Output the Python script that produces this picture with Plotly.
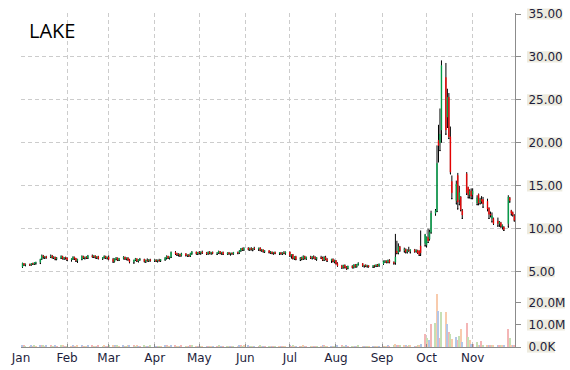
import pandas as pd
import plotly.graph_objects as go

TICKER = "LAKE"

# daily candles (open, high, low, close), one list per month (2019 trading days)
jan = [(5.55,6.05,5.50,6.00),(5.95,6.00,5.75,5.80),(5.80,5.95,5.70,5.85),(5.85,5.95,5.75,5.78),
       (5.80,6.00,5.78,5.95),(5.95,6.05,5.85,5.90),(5.90,6.10,5.85,6.05),(6.05,6.15,5.90,6.10),
       (6.10,6.50,5.95,6.45),(6.50,7.00,6.45,6.85),(6.85,6.95,6.60,6.70),(6.70,6.80,6.55,6.75),
       (6.75,6.85,6.60,6.65),(6.70,7.00,6.65,6.80),(6.85,6.95,6.60,6.65),(6.65,6.80,6.55,6.70),
       (6.70,6.75,6.40,6.50),(6.50,6.70,6.40,6.60),(6.60,6.90,6.55,6.80),(6.80,6.85,6.50,6.55),
       (6.55,6.70,6.45,6.65),(6.65,6.75,6.50,6.60)]
feb = [(6.60,6.70,6.30,6.40),(6.40,6.55,6.25,6.50),(6.50,6.80,6.45,6.70),(6.70,6.75,6.45,6.55),
       (6.55,6.60,6.20,6.30),(6.30,6.50,6.10,6.45),(6.45,6.90,6.40,6.80),(6.80,6.85,6.55,6.60),
       (6.60,6.75,6.50,6.70),(6.70,6.80,6.55,6.60),(6.60,6.95,6.55,6.85),(6.85,7.00,6.70,6.75),
       (6.75,6.90,6.65,6.85),(6.85,6.90,6.60,6.65),(6.65,6.80,6.55,6.75),(6.75,6.85,6.50,6.55),
       (6.55,6.70,6.45,6.65),(6.65,6.90,6.60,6.80),(6.80,6.85,6.55,6.60),(6.60,6.75,6.50,6.70)]
mar = [(6.70,6.90,6.40,6.45),(6.45,6.60,6.10,6.20),(6.20,6.55,6.15,6.50),(6.50,6.70,6.40,6.60),
       (6.60,6.65,6.30,6.35),(6.35,6.60,6.30,6.55),(6.55,6.80,6.50,6.70),(6.70,6.75,6.45,6.50),
       (6.50,6.65,6.40,6.60),(6.60,6.70,6.35,6.40),(6.40,6.50,6.05,6.15),(6.15,6.40,6.00,6.35),
       (6.35,6.60,6.30,6.50),(6.50,6.55,6.20,6.25),(6.25,6.45,6.15,6.40),(6.40,6.60,6.35,6.45),
       (6.45,6.50,6.15,6.20),(6.20,6.40,6.10,6.35),(6.35,6.55,6.25,6.30),(6.30,6.45,6.20,6.40),
       (6.40,6.50,6.25,6.30)]
apr = [(6.30,6.45,6.20,6.35),(6.35,6.45,6.20,6.25),(6.25,6.40,6.15,6.35),(6.35,6.50,6.25,6.30),
       (6.30,6.45,6.20,6.40),(6.40,6.70,6.35,6.60),(6.60,6.90,6.50,6.80),(6.80,6.85,6.55,6.60),
       (6.60,6.75,6.50,6.70),(6.70,7.35,6.65,7.25),(7.25,7.40,7.00,7.10),(7.10,7.20,6.90,7.00),
       (7.00,7.15,6.85,7.05),(7.05,7.10,6.80,6.90),(6.90,7.20,6.85,7.10),(7.10,7.15,6.85,6.90),
       (6.90,7.00,6.80,6.95),(6.95,7.05,6.80,6.85),(6.85,7.20,6.80,7.15),(7.15,7.40,7.05,7.30),
       (7.30,7.35,7.05,7.10),(7.10,7.30,7.00,7.25)]
may = [(7.25,7.40,7.10,7.20),(7.20,7.35,7.05,7.30),(7.30,7.45,7.15,7.20),(7.20,7.30,7.00,7.10),
       (7.10,7.35,7.05,7.30),(7.30,7.40,7.10,7.15),(7.15,7.30,7.05,7.25),(7.25,7.35,7.10,7.15),
       (7.15,7.25,7.00,7.20),(7.20,7.45,7.15,7.35),(7.35,7.40,7.10,7.15),(7.15,7.30,7.05,7.25),
       (7.25,7.35,7.00,7.05),(7.05,7.25,7.00,7.20),(7.20,7.30,7.05,7.10),(7.10,7.20,6.95,7.15),
       (7.15,7.25,7.05,7.10),(7.10,7.30,7.05,7.25),(7.25,7.35,7.10,7.20),(7.20,7.50,7.15,7.45),
       (7.45,7.75,7.40,7.70),(7.70,7.80,7.50,7.55),(7.55,7.85,7.50,7.75)]
jun = [(7.75,7.85,7.55,7.60),(7.60,7.80,7.50,7.70),(7.70,7.85,7.55,7.60),(7.60,7.75,7.45,7.70),
       (7.70,7.90,7.60,7.65),(7.65,7.80,7.50,7.75),(7.75,7.85,7.45,7.50),(7.50,7.65,7.40,7.55),
       (7.55,7.60,7.30,7.35),(7.35,7.50,7.25,7.45),(7.45,7.50,7.20,7.25),(7.25,7.40,7.15,7.30),
       (7.30,7.35,7.10,7.15),(7.15,7.30,7.05,7.25),(7.25,7.35,7.10,7.15),(7.15,7.25,7.00,7.20),
       (7.20,7.30,7.05,7.10),(7.10,7.25,7.00,7.20),(7.20,7.40,7.10,7.15),(7.15,7.35,7.05,7.30)]
jul = [(7.30,7.35,6.80,6.90),(6.90,7.05,6.60,7.00),(7.00,7.05,6.50,6.55),(6.55,6.80,6.45,6.75),
       (6.75,6.85,6.40,6.45),(6.45,6.70,6.30,6.60),(6.60,6.75,6.40,6.50),(6.50,6.90,6.45,6.80),
       (6.80,6.85,6.50,6.55),(6.55,6.75,6.45,6.70),(6.70,6.85,6.55,6.60),(6.60,6.80,6.50,6.75),
       (6.75,6.90,6.60,6.65),(6.65,6.80,6.45,6.50),(6.50,6.70,6.35,6.65),(6.65,6.85,6.55,6.60),
       (6.60,6.75,6.30,6.35),(6.35,6.80,6.30,6.70),(6.70,6.85,6.40,6.45),(6.45,6.60,6.20,6.30),
       (6.30,6.50,6.10,6.45),(6.45,6.55,6.15,6.20),(6.20,6.40,6.05,6.30)]
aug = [(6.30,6.35,5.90,5.95),(5.95,6.10,5.65,5.70),(5.70,5.80,5.40,5.50),(5.50,5.80,5.45,5.75),
       (5.75,5.85,5.45,5.50),(5.50,5.65,5.30,5.40),(5.40,5.70,5.35,5.65),(5.65,5.75,5.45,5.50),
       (5.50,5.85,5.45,5.80),(5.80,5.90,5.55,5.60),(5.60,5.90,5.55,5.85),(5.85,6.10,5.80,5.95),
       (5.95,6.00,5.65,5.70),(5.70,5.80,5.55,5.75),(5.75,5.85,5.60,5.65),(5.65,5.80,5.55,5.70),
       (5.70,5.75,5.55,5.60),(5.60,5.75,5.50,5.70),(5.70,5.80,5.55,5.65),(5.65,5.85,5.60,5.80),
       (5.80,5.90,5.65,5.70),(5.70,5.95,5.65,5.90)]
sep = [(5.90,6.30,5.85,6.20),(6.20,6.35,6.10,6.25),(6.25,6.30,6.05,6.10),(6.10,6.40,6.05,6.35),
       (6.35,6.45,6.05,6.10),(6.10,6.20,5.90,6.00),(6.10,9.40,5.90,6.70),(7.40,8.60,7.10,7.20),
       (7.20,8.30,7.10,7.90),(7.90,8.00,7.40,7.50),(7.50,7.80,7.30,7.60),(7.60,7.70,7.20,7.30),
       (7.30,7.60,7.20,7.50),(7.50,7.90,7.40,7.45),(7.45,7.60,7.20,7.55),(7.55,7.65,7.30,7.35),
       (7.35,7.60,7.30,7.50),(7.50,7.55,7.15,7.20),(7.40,7.50,6.90,7.00),(8.00,9.80,6.90,7.20),
       (8.30,9.40,8.00,9.30)]
oct_ = [(8.10,9.10,7.90,9.00),(9.00,10.00,8.40,8.60),(8.80,9.90,8.70,9.60),(9.60,12.10,9.50,11.80),
        (11.80,12.30,11.60,12.10),(12.10,19.70,12.00,17.60),(20.30,22.10,17.80,19.70),(20.00,24.00,19.10,21.00),
        (21.50,29.60,20.10,29.00),(27.60,29.30,21.00,21.50),(23.00,26.30,21.80,25.30),(25.30,25.80,20.50,20.70),
        (20.70,21.90,16.40,16.60),(15.50,16.20,13.50,14.20),(13.30,15.60,12.90,15.20),(16.20,16.50,12.30,13.10),
        (13.40,15.00,12.80,14.20),(13.70,13.80,12.10,12.20),(12.10,12.30,11.20,11.60),(16.40,16.60,14.00,14.20),
        (14.80,14.90,13.60,14.00),(14.00,14.60,13.60,14.40),(14.40,14.70,13.50,13.80)]
nov = [(14.00,14.70,13.50,14.40),(13.00,13.90,12.80,13.60),(14.00,14.10,12.80,13.00),(13.10,13.60,12.90,13.40),
       (13.40,13.80,13.00,13.20),(13.40,13.70,12.50,12.90),(13.20,13.50,12.10,12.30),(12.40,12.50,11.20,11.70),
       (11.70,12.00,11.40,11.60),(11.20,11.90,10.80,11.50),(11.20,11.30,10.50,10.60),(10.90,11.30,10.30,10.60),
       (10.60,10.90,10.30,10.80),(10.70,10.80,10.20,10.30),(10.30,10.50,10.00,10.40),(10.20,10.30,9.80,9.90),
       (10.60,13.90,10.20,13.70),(13.60,13.70,13.10,13.30),(12.10,12.20,11.60,11.80),(11.90,12.00,11.50,11.60),
       (11.50,11.70,10.90,11.00)]

# daily volume, millions of shares
vol_jan = [0.9,0.5,0.4,0.3,0.6,0.4,0.5,0.3,0.8,1.1,0.6,0.4,0.5,0.6,0.4,0.3,0.5,0.4,0.6,0.5,0.3,0.4]
vol_feb = [0.4,0.3,0.6,0.4,0.3,0.5,0.7,0.4,0.3,0.4,0.6,0.5,0.3,0.4,0.3,0.5,0.4,0.6,0.3,0.4]
vol_mar = [0.6,0.7,0.5,0.4,0.5,0.3,0.6,0.4,0.3,0.5,0.7,0.5,0.4,0.5,0.3,0.4,0.5,0.3,0.4,0.3,0.5]
vol_apr = [0.3,0.4,0.3,0.3,0.4,0.5,0.6,0.4,0.3,0.9,0.5,0.4,0.3,0.4,0.5,0.3,0.3,0.4,0.5,0.6,0.4,0.3]
vol_may = [0.4,0.3,0.3,0.4,0.3,0.3,0.4,0.3,0.3,0.5,0.4,0.3,0.4,0.3,0.3,0.3,0.3,0.4,0.3,0.5,0.7,0.4,0.5]
vol_jun = [0.5,0.4,0.3,0.4,0.4,0.3,0.5,0.3,0.4,0.3,0.4,0.3,0.3,0.3,0.4,0.3,0.3,0.3,0.4,0.3]
vol_jul = [0.5,0.4,0.5,0.3,0.4,0.4,0.3,0.5,0.4,0.3,0.3,0.4,0.3,0.4,0.3,0.3,0.5,0.5,0.4,0.4,0.3,0.4,0.3]
vol_aug = [0.5,0.6,0.7,0.4,0.4,0.5,0.4,0.3,0.4,0.3,0.4,0.5,0.3,0.3,0.3,0.3,0.3,0.3,0.3,0.4,0.3,0.4]
vol_sep = [0.4,0.4,0.3,0.5,0.4,0.5,1.5,1.0,0.8,0.6,0.5,0.5,0.4,0.6,0.5,0.4,0.4,0.5,0.9,1.2,6.0]
vol_oct = [4.0,2.2,3.4,10.5,10.9,23.9,16.4,4.0,15.7,15.7,10.5,7.0,6.0,3.7,4.5,3.0,5.0,8.2,2.2,10.9,4.5,3.0,1.5]
vol_nov = [1.2,2.2,1.0,0.8,2.8,0.9,0.7,0.6,1.0,0.8,0.9,0.7,0.6,1.1,0.5,0.8,8.2,4.0,0.9,0.5,0.8]

MONTHS = [("2019-01-02", "2019-01-31", jan, vol_jan), ("2019-02-01", "2019-02-28", feb, vol_feb),
          ("2019-03-01", "2019-03-31", mar, vol_mar), ("2019-04-01", "2019-04-30", apr, vol_apr),
          ("2019-05-01", "2019-05-31", may, vol_may), ("2019-06-01", "2019-06-30", jun, vol_jun),
          ("2019-07-01", "2019-07-31", jul, vol_jul), ("2019-08-01", "2019-08-31", aug, vol_aug),
          ("2019-09-01", "2019-09-30", sep, vol_sep), ("2019-10-01", "2019-10-31", oct_, vol_oct),
          ("2019-11-01", "2019-11-29", nov, vol_nov)]

price_ticks = [5, 10, 15, 20, 25, 30, 35]
vol_ticks = [0, 10e6, 20e6]
vol_ticktext = ["0.0K", "10.0M", "20.0M"]

dates, o, h, l, c, v = [], [], [], [], [], []
for start, end, rows, vols in MONTHS:
    d = pd.bdate_range(start, end)
    assert len(d) == len(rows) == len(vols), (start, len(d), len(rows), len(vols))
    dates += list(d)
    for (a, b, e, f) in rows:
        o.append(a); h.append(b); l.append(e); c.append(f)
    v += [x * 1e6 for x in vols]

body_hi = [max(a, f) for a, f in zip(o, c)]
body_lo = [min(a, f) for a, f in zip(o, c)]

GREEN = "#00b050"
RED = "#ff0000"
PASTELS = ["#b4c6e7", "#f4b6b6", "#c5e0b4", "#f8cbad"]
GRID = "#cccccc"
AXIS = "#8c8c8c"
TXT = "#1e1e3c"
FONT = "DejaVu Sans"

fig = go.Figure()
# wicks (black): degenerate box at the low, whisker up to the high
fig.add_trace(go.Candlestick(
    x=dates, open=l, high=h, low=l, close=l, xaxis="x", yaxis="y",
    increasing=dict(line=dict(color="black", width=1), fillcolor="black"),
    decreasing=dict(line=dict(color="black", width=1), fillcolor="black"),
    whiskerwidth=0, hoverinfo="skip", showlegend=False))
# bodies (coloured)
fig.add_trace(go.Candlestick(
    x=dates, open=o, high=body_hi, low=body_lo, close=c, xaxis="x", yaxis="y",
    increasing=dict(line=dict(color=GREEN, width=0.5), fillcolor=GREEN),
    decreasing=dict(line=dict(color=RED, width=0.5), fillcolor=RED),
    whiskerwidth=0, showlegend=False))
# volume
fig.add_trace(go.Bar(
    x=dates, y=v, xaxis="x", yaxis="y2", width=0.8 * 86400000,
    marker=dict(color=[PASTELS[i % len(PASTELS)] for i in range(len(v))], line=dict(width=0)),
    showlegend=False))

W, H = 570, 370
ML, MR, MT, MB = 21, 55, 13, 23
PW = W - ML - MR
PH = H - MT - MB
split = (347 - 286) / PH
price_range = [3.335, 35.116]
vol_range = [0, 27.7e6]

fig.update_layout(
    width=W, height=H, margin=dict(l=ML, r=MR, t=MT, b=MB, autoexpand=False),
    paper_bgcolor="white", plot_bgcolor="white", showlegend=False,
    bargap=0,
    xaxis=dict(type="date", range=["2019-01-01", "2019-11-29 12:00"], dtick="M1",
               tick0="2019-01-01", tickformat="%b", anchor="y2", automargin=False,
               showgrid=True, gridcolor=GRID, griddash="4px,3px", gridwidth=1,
               showline=True, linecolor=AXIS, linewidth=1, zeroline=False,
               ticks="inside", ticklen=3, tickcolor=AXIS,
               tickfont=dict(family=FONT, size=12, color=TXT),
               rangeslider=dict(visible=False)),
    yaxis=dict(domain=[split, 1], range=price_range, side="right", anchor="x", automargin=False,
               tickvals=price_ticks, tickformat=".2f",
               showgrid=True, gridcolor=GRID, griddash="4px,3px", gridwidth=1,
               showline=True, linecolor=AXIS, linewidth=1, zeroline=False,
               ticks="outside", ticklen=5, tickcolor=AXIS, ticklabelstandoff=5,
               tickfont=dict(family=FONT, size=12, color=TXT)),
    yaxis2=dict(domain=[0, split], range=vol_range, side="right", anchor="x", automargin=False,
                tickvals=vol_ticks, ticktext=vol_ticktext,
                showgrid=False, showline=True, linecolor=AXIS, linewidth=1, zeroline=False,
                ticks="outside", ticklen=5, tickcolor=AXIS, ticklabelstandoff=5,
                tickfont=dict(family=FONT, size=12, color=TXT)),
)

# beige boxes behind the tick labels (paper coordinates derived from the axis ranges)
CW = {"0": 7.63, "1": 7.63, "2": 7.63, "3": 7.63, "4": 7.63, "5": 7.63, "6": 7.63,
      "7": 7.63, "8": 7.63, "9": 7.63, ".": 3.81, "M": 10.36, "K": 7.87}
BOX = "#edebdf"
def to_paper(val, rng, dom):
    return dom[0] + (val - rng[0]) / (rng[1] - rng[0]) * (dom[1] - dom[0])
def label_box(text, yval, rng, dom):
    w = sum(CW.get(ch, 7.6) for ch in text)
    x0 = 1 + 12 / PW
    x1 = x0 + (w + 1) / PW
    yc = to_paper(yval, rng, dom)
    hh = 5.6 / PH
    fig.add_shape(type="rect", xref="paper", yref="paper", x0=x0, x1=x1,
                  y0=yc - hh, y1=yc + hh, fillcolor=BOX, line=dict(width=0), layer="below")

for t in price_ticks:
    label_box(f"{t:.2f}", t, price_range, [split, 1])
for t, txt in zip(vol_ticks, vol_ticktext):
    label_box(txt, t, vol_range, [0, split])

fig.add_annotation(text=TICKER, xref="paper", yref="paper", x=0.012, y=(347 - 30.5) / PH,
                   xanchor="left", yanchor="middle", showarrow=False,
                   font=dict(family="Open Sans", size=20, color="black"))

fig.write_html("out.html")
